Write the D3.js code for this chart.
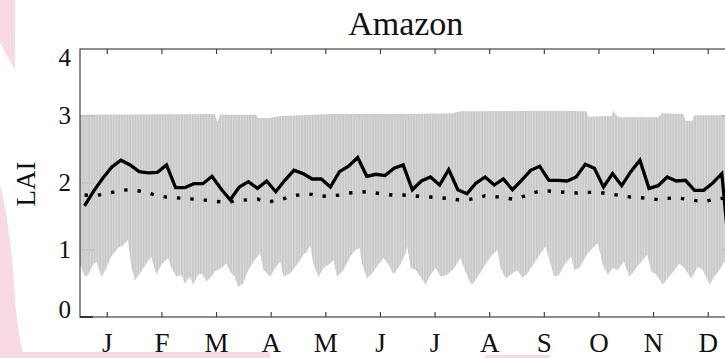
<!DOCTYPE html>
<html>
<head>
<meta charset="utf-8">
<script src="https://cdn.jsdelivr.net/npm/d3@7"></script>
<style>
  html, body { margin: 0; padding: 0; background: #fff; }
  svg { display: block; }
  text { font-family: "Liberation Serif", "DejaVu Serif", serif; fill: #111; }
</style>
</head>
<body>
<figure id="lai" style="margin:0"></figure>
<script>
// month labels, tick at the middle of each month
const months = ["J", "F", "M", "A", "M", "J", "J", "A", "S", "O", "N", "D"];
const yTicks = [0, 1, 2, 3, 4];

// 72 samples per year (6 per month)
const laiSolid = [
  1.66, 1.88, 2.07, 2.24, 2.34, 2.27, 2.17, 2.15, 2.16, 2.27,
  1.93, 1.93, 1.99, 1.99, 2.10, 1.91, 1.75, 1.94, 2.02, 1.92,
  2.03, 1.87, 2.04, 2.19, 2.14, 2.06, 2.06, 1.94, 2.17, 2.25,
  2.38, 2.10, 2.13, 2.11, 2.22, 2.27, 1.90, 2.03, 2.09, 1.97,
  2.20, 1.90, 1.84, 2.00, 2.09, 1.97, 2.06, 1.90, 2.04, 2.19,
  2.25, 2.04, 2.04, 2.03, 2.09, 2.28, 2.22, 1.94, 2.14, 1.96,
  2.17, 2.34, 1.92, 1.96, 2.09, 2.03, 2.04, 1.89, 1.89, 2.00,
  2.14, 0.70
];
const laiDotted = [
  1.82, 1.81, 1.83, 1.86, 1.89, 1.90, 1.88, 1.85, 1.81, 1.79,
  1.78, 1.77, 1.76, 1.75, 1.73, 1.72, 1.72, 1.74, 1.75, 1.76,
  1.72, 1.73, 1.77, 1.81, 1.83, 1.83, 1.80, 1.81, 1.82, 1.85,
  1.86, 1.87, 1.85, 1.83, 1.82, 1.82, 1.81, 1.80, 1.79, 1.78,
  1.77, 1.75, 1.75, 1.77, 1.81, 1.80, 1.78, 1.76, 1.79, 1.84,
  1.88, 1.88, 1.87, 1.86, 1.85, 1.86, 1.86, 1.85, 1.83, 1.81,
  1.79, 1.78, 1.77, 1.75, 1.77, 1.78, 1.76, 1.74, 1.72, 1.75,
  1.77, 1.78
];

// grey range: upper edge (day of year, LAI)
const bandTopDay = [0, 75, 76.5, 78, 98, 99, 105, 112, 140, 180, 207, 212, 270,
  282, 283, 296, 297, 299, 301, 322, 324, 336, 337, 341, 342, 365];
const bandTopLai = [3.02, 3.03, 2.91, 3.02, 3.02, 2.97, 2.97, 3.0, 3.03, 3.03, 3.04, 3.07, 3.08,
  3.07, 2.99, 3.0, 3.08, 3.0, 2.98, 2.98, 3.04, 3.03, 2.93, 2.93, 3.01, 3.01];

// grey range: lower edge (day of year, LAI)
const bandLowDay = [
  0, 0.7, 2.6, 4.5, 7.2, 9.1, 11.9, 13.8, 17.4, 21.2,
  24, 26.7, 28.6, 30.5, 33.3, 36.9, 39.7, 42.5, 45.3, 49,
  50.9, 53.7, 56.5, 58.3, 61.1, 63, 65.8, 68, 70.4, 73.2,
  75.1, 78.7, 81.5, 83.4, 86.2, 88.1, 90.8, 92.9, 96.6, 100.3,
  102.2, 105.9, 108.7, 111.5, 113.3, 117, 120.8, 124.4, 126.3, 128.2,
  130, 132.8, 135.6, 139.3, 141.2, 143.1, 146.7, 150.5, 153.3, 155.7,
  157, 159.8, 162.6, 165.3, 169, 171.8, 174.6, 178.3, 181.1, 182.2,
  184.1, 186.9, 189.6, 192.4, 195.2, 198, 200.8, 204.5, 208.3, 211.9,
  213.8, 216.6, 218.5, 222.2, 226.8, 229.6, 232.4, 234.2, 237, 240.8,
  243.5, 246.3, 249.1, 252.8, 256.5, 259.3, 262.1, 264, 266.8, 269.7,
  273.5, 275.3, 278.1, 282.7, 288.3, 291.1, 293.9, 296.6, 299.4, 302.8,
  306, 309.7, 313.4, 315.8, 318.1, 320.8, 324.5, 327.3, 331, 333.8,
  336.6, 340.3, 344, 346.8, 350.6, 353.3, 356.1, 358.9, 362, 365
];
const bandLowLai = [
  0.78, 0.75, 0.60, 0.63, 0.78, 0.83, 0.60, 0.68, 0.90, 1.03,
  1.07, 1.15, 0.75, 0.55, 0.65, 0.80, 0.90, 0.63, 0.78, 0.88,
  0.73, 0.60, 0.63, 0.50, 0.60, 0.48, 0.63, 0.65, 0.53, 0.60,
  0.68, 0.73, 0.80, 0.68, 0.60, 0.45, 0.50, 0.65, 0.83, 0.95,
  0.70, 0.60, 0.73, 0.83, 0.60, 0.65, 0.78, 0.93, 0.97, 1.07,
  0.78, 0.60, 0.73, 0.80, 0.85, 0.60, 0.70, 0.90, 1.00, 1.03,
  0.80, 0.58, 0.65, 0.75, 0.88, 0.78, 0.63, 0.78, 0.93, 1.05,
  0.73, 0.70, 0.60, 0.48, 0.63, 0.73, 0.60, 0.63, 0.73, 0.88,
  0.73, 0.55, 0.48, 0.63, 0.83, 0.93, 1.00, 0.73, 0.58, 0.65,
  0.70, 0.58, 0.65, 0.80, 0.95, 1.05, 0.78, 0.60, 0.63, 0.78,
  0.90, 0.70, 0.73, 0.95, 1.10, 0.78, 0.63, 0.73, 0.70, 0.83,
  0.60, 0.73, 0.85, 0.93, 0.68, 0.63, 0.48, 0.58, 0.70, 0.80,
  0.73, 0.58, 0.75, 0.70, 0.48, 0.60, 0.70, 0.83, 0.88, 0.88
];

const W = 725, H = 358;
const mLeft = 80, mRight = 735.5, mTop = 49, mBottom = 317;

const svg = d3.select("figure#lai").append("svg")
  .attr("width", W).attr("height", H);

// pink remnants of the page behind the figure
const pink = "#f8dae4";
svg.append("path").attr("fill", pink)
  .attr("d", "M0,0 L15,0 L15,70 L0,43 Z");
svg.append("path").attr("fill", pink)
  .attr("d", "M0,185 C8,215 13,260 15,300 C17,325 21,345 24,358 L0,358 Z");
svg.append("rect").attr("fill", pink).attr("x", 0).attr("y", 352).attr("width", 270).attr("height", 6);
svg.append("rect").attr("fill", pink).attr("x", 485).attr("y", 355).attr("width", 65).attr("height", 3);

const x = d3.scaleLinear().domain([0, 12]).range([mLeft, mRight]);
const xDay = d3.scaleLinear().domain([0, 365]).range([mLeft, mRight]);
const y = d3.scaleLinear().domain([0, 4]).range([mBottom, mTop]);

// vertical stripe texture of the daily bars
const defs = svg.append("defs");
const pat = defs.append("pattern").attr("id", "bars")
  .attr("patternUnits", "userSpaceOnUse").attr("width", 2.73).attr("height", 20).attr("x", mLeft);
pat.append("rect").attr("width", 2.0).attr("height", 20).attr("fill", "#c9c9c9");
pat.append("rect").attr("x", 2.0).attr("width", 0.73).attr("height", 20)
  .attr("fill", "#c9c9c9").attr("fill-opacity", 0.75);
defs.append("clipPath").attr("id", "plot").append("rect")
  .attr("x", mLeft).attr("y", mTop).attr("width", mRight - mLeft).attr("height", mBottom - mTop);

const g = svg.append("g").attr("clip-path", "url(#plot)");

// y ticks sit under the bars and show through the gaps
g.append("g").selectAll("line")
  .data(yTicks.slice(1, 4))
  .join("line")
  .attr("x1", mLeft).attr("x2", mLeft + 14)
  .attr("y1", d => y(d)).attr("y2", d => y(d))
  .attr("stroke", "#444").attr("stroke-width", 1);
g.append("g").selectAll("line")
  .data(yTicks.slice(1, 4))
  .join("line")
  .attr("x1", mRight - 14).attr("x2", mRight)
  .attr("y1", d => y(d)).attr("y2", d => y(d))
  .attr("stroke", "#444").attr("stroke-width", 1);

// grey band
const topPts = bandTopDay.map((d, i) => [xDay(d), y(bandTopLai[i])]);
const lowPts = bandLowDay.map((d, i) => [xDay(d), y(bandLowLai[i])]).reverse();
g.append("path")
  .attr("d", d3.line()(topPts.concat(lowPts)) + "Z")
  .attr("fill", "url(#bars)");

// dotted line
const xk = (d, i) => x((i + 0.5) / 6);
g.append("path")
  .datum(laiDotted)
  .attr("d", d3.line().x(xk).y(d => y(d)))
  .attr("fill", "none").attr("stroke", "#000")
  .attr("stroke-width", 3.4).attr("stroke-dasharray", "3.4,10");

// solid line
g.append("path")
  .datum(laiSolid)
  .attr("d", d3.line().x(xk).y(d => y(d)))
  .attr("fill", "none").attr("stroke", "#000")
  .attr("stroke-width", 3.3).attr("stroke-linejoin", "miter");

// box
svg.append("rect")
  .attr("x", mLeft).attr("y", mTop).attr("width", mRight - mLeft).attr("height", mBottom - mTop)
  .attr("fill", "none").attr("stroke", "#444").attr("stroke-width", 1.2);

// y tick at 0 overlaps the bottom edge
svg.append("line")
  .attr("x1", mLeft).attr("x2", mLeft + 13).attr("y1", y(0)).attr("y2", y(0))
  .attr("stroke", "#333").attr("stroke-width", 2);

// month ticks, top and bottom, pointing inward
const mid = months.map((m, i) => i + 0.5);
svg.append("g").selectAll("line").data(mid).join("line")
  .attr("x1", d => x(d)).attr("x2", d => x(d))
  .attr("y1", mTop).attr("y2", mTop + 5)
  .attr("stroke", "#444").attr("stroke-width", 1.2);
svg.append("g").selectAll("line").data(mid).join("line")
  .attr("x1", d => x(d)).attr("x2", d => x(d))
  .attr("y1", mBottom).attr("y2", mBottom - 5)
  .attr("stroke", "#444").attr("stroke-width", 1.2);

// month labels
svg.append("g").selectAll("text").data(months).join("text")
  .attr("x", (d, i) => x(i + 0.5))
  .attr("y", 352)
  .attr("text-anchor", "middle")
  .attr("font-size", 27)
  .text(d => d);

// y labels (end ones pulled inside the frame)
svg.append("g").selectAll("text").data(yTicks).join("text")
  .attr("x", 71)
  .attr("y", d => Math.min(Math.max(y(d), mTop + 9), mBottom - 7))
  .attr("dy", "0.33em")
  .attr("text-anchor", "end")
  .attr("font-size", 25)
  .text(d => d);

svg.append("text")
  .attr("transform", "translate(35," + ((mTop + mBottom) / 2 + 1) + ") rotate(-90)")
  .attr("text-anchor", "middle")
  .attr("font-size", 27)
  .text("LAI");

svg.append("text")
  .attr("x", (mLeft + mRight) / 2 - 2)
  .attr("y", 35)
  .attr("text-anchor", "middle")
  .attr("font-size", 34)
  .text("Amazon");
</script>
</body>
</html>
